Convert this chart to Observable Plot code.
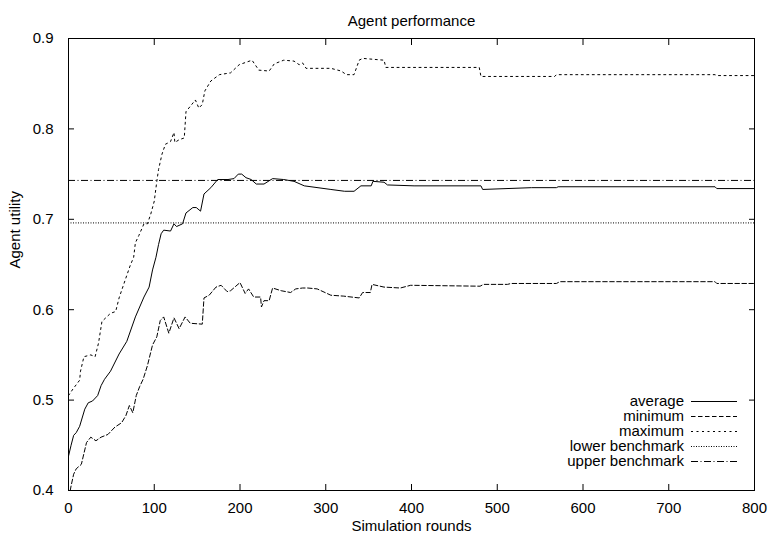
<!DOCTYPE html>
<html>
<head>
<meta charset="utf-8">
<script src="https://cdn.jsdelivr.net/npm/d3@7"></script>
<script src="https://cdn.jsdelivr.net/npm/@observablehq/plot@0.6"></script>
<style>
  html, body { margin: 0; padding: 0; background: #fff; }
  #chart { position: relative; width: 768px; height: 538px; }
  #legend { position: absolute; left: 0; top: 0; pointer-events: none; }
</style>
</head>
<body>
<div id="chart"></div>
<script>
// ---- data ----
const title = "Agent performance";
const xLabel = "Simulation rounds";
const yLabel = "Agent utility";
const xTicks = [0, 100, 200, 300, 400, 500, 600, 700, 800];
const yTicks = [0.4, 0.5, 0.6, 0.7, 0.8, 0.9];
const seriesNames = ["average", "minimum", "maximum", "lower benchmark", "upper benchmark"];

const avgRounds = [0,3,6,9,13,19,23,28,34,38,42,49,59,68,78,88,94,98,102,105,108,111,119,123,126,133,137,145,149,154,158,166,174,186,193,198,202,207,213,219,228,238,251,263,275,306,322,333,341,353,355,368,372,403,481,483,540,569,571,754,756,800];
const avgValues = [0.438,0.450,0.461,0.464,0.471,0.490,0.497,0.499,0.505,0.516,0.523,0.532,0.551,0.565,0.592,0.614,0.625,0.644,0.658,0.672,0.684,0.688,0.687,0.695,0.692,0.695,0.707,0.713,0.713,0.709,0.728,0.735,0.744,0.744,0.745,0.750,0.750,0.746,0.744,0.739,0.739,0.745,0.744,0.742,0.737,0.733,0.731,0.731,0.737,0.737,0.742,0.741,0.738,0.737,0.737,0.733,0.735,0.735,0.736,0.736,0.734,0.734];

const minRounds = [2,3,6,9,15,21,26,32,38,46,54,62,67,71,75,79,83,87,92,98,103,107,111,117,123,129,136,142,156,158,164,172,178,185,189,200,206,210,216,224,225,228,234,238,248,259,265,273,279,290,306,321,339,343,352,354,368,387,399,480,484,512,516,569,573,754,756,800];
const minValues = [0.400,0.405,0.418,0.424,0.429,0.453,0.459,0.455,0.459,0.462,0.470,0.475,0.483,0.494,0.486,0.505,0.515,0.523,0.538,0.561,0.570,0.588,0.592,0.574,0.591,0.579,0.592,0.585,0.584,0.613,0.616,0.625,0.627,0.620,0.621,0.630,0.618,0.623,0.614,0.614,0.603,0.610,0.610,0.624,0.621,0.619,0.623,0.624,0.624,0.623,0.616,0.615,0.613,0.619,0.619,0.628,0.625,0.624,0.627,0.626,0.628,0.628,0.629,0.629,0.631,0.631,0.629,0.629];

const maxRounds = [0,5,9,13,14,18,26,31,35,39,49,55,59,64,72,76,78,82,88,92,96,100,103,105,109,113,119,123,124,129,135,137,142,148,152,156,159,166,176,189,199,214,222,234,240,251,263,269,273,277,306,318,324,333,339,343,368,370,479,481,567,569,754,756,800];
const maxValues = [0.505,0.512,0.517,0.522,0.532,0.548,0.550,0.548,0.563,0.587,0.596,0.598,0.613,0.627,0.649,0.658,0.674,0.682,0.695,0.695,0.706,0.720,0.742,0.755,0.772,0.783,0.786,0.796,0.785,0.788,0.790,0.819,0.825,0.832,0.823,0.827,0.842,0.853,0.860,0.862,0.871,0.876,0.865,0.864,0.872,0.876,0.875,0.871,0.873,0.867,0.867,0.864,0.860,0.860,0.876,0.878,0.876,0.868,0.868,0.858,0.858,0.860,0.860,0.859,0.859];

const lowerBenchmark = 0.696;
const upperBenchmark = 0.743;

// ---- tables built from the arrays ----
const avgData = avgRounds.map((r, i) => ({round: r, utility: avgValues[i]}));
const minData = minRounds.map((r, i) => ({round: r, utility: minValues[i]}));
const maxData = maxRounds.map((r, i) => ({round: r, utility: maxValues[i]}));

const dashes = ["none", "4.5,2.5", "2,3.5", "1,1.5", "7,2.5,1,2.5"];
const font = "'Liberation Sans', Arial, Helvetica, sans-serif";

const plot = Plot.plot({
  width: 768,
  height: 538,
  marginTop: 38,
  marginBottom: 48,
  marginLeft: 68,
  marginRight: 14,
  style: {fontFamily: font, fontSize: "15px", background: "#fff", color: "#000", overflow: "visible"},
  x: {domain: [0, 800]},
  y: {domain: [0.4, 0.9]},
  marks: [
    Plot.ruleY([lowerBenchmark], {stroke: "#000", strokeWidth: 1, strokeDasharray: dashes[3]}),
    Plot.ruleY([upperBenchmark], {stroke: "#000", strokeWidth: 1, strokeDasharray: dashes[4]}),
    Plot.line(maxData, {x: "round", y: "utility", stroke: "#000", strokeWidth: 1, strokeDasharray: dashes[2], clip: true}),
    Plot.line(minData, {x: "round", y: "utility", stroke: "#000", strokeWidth: 1, strokeDasharray: dashes[1], clip: true}),
    Plot.line(avgData, {x: "round", y: "utility", stroke: "#000", strokeWidth: 1, clip: true}),
    Plot.axisX({anchor: "bottom", ticks: xTicks, tickSize: -6, tickPadding: 18, label: null, tickFormat: d3.format("d")}),
    Plot.axisX({anchor: "top", ticks: xTicks, tickSize: -6, label: null, tickFormat: () => ""}),
    Plot.axisY({anchor: "left", ticks: yTicks, tickSize: -6, tickPadding: 21, label: null, tickFormat: d3.format(".1f")}),
    Plot.axisY({anchor: "right", ticks: yTicks, tickSize: -6, label: null, tickFormat: () => ""}),
    Plot.frame({stroke: "#000", strokeWidth: 1}),
    Plot.text([title], {text: d => d, frameAnchor: "top", dy: -23, fill: "#000"}),
    Plot.text([xLabel], {text: d => d, frameAnchor: "bottom", dy: 40, fill: "#000"}),
    Plot.text([yLabel], {text: d => d, frameAnchor: "left", rotate: -90, dx: -53, dy: 4, fill: "#000"})
  ]
});

const chart = document.getElementById("chart");
chart.appendChild(plot);

// ---- key, inside the plot area at lower right ----
const legend = d3.select(chart).append("svg")
  .attr("id", "legend")
  .attr("width", 768)
  .attr("height", 538);
const rows = legend.selectAll("g")
  .data(seriesNames)
  .join("g")
  .attr("transform", (d, i) => `translate(0,${401 + i * 15})`);
rows.append("text")
  .attr("x", 684)
  .attr("y", 0)
  .attr("dy", "0.33em")
  .attr("text-anchor", "end")
  .style("font-family", font)
  .style("font-size", "15px")
  .attr("fill", "#000")
  .text(d => d);
rows.append("line")
  .attr("x1", 691)
  .attr("x2", 737)
  .attr("y1", 0.5)
  .attr("y2", 0.5)
  .attr("stroke", "#000")
  .attr("stroke-width", 1)
  .attr("stroke-dasharray", (d, i) => dashes[i]);
</script>
</body>
</html>
